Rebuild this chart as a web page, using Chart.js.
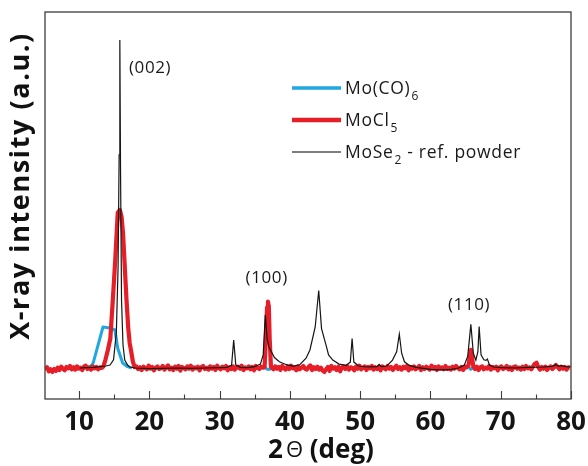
<!DOCTYPE html>
<html>
<head>
<meta charset="utf-8">
<script src="https://cdn.jsdelivr.net/npm/chart.js@4/dist/chart.umd.min.js"></script>
<style>
html,body{margin:0;padding:0;background:#fff;}
#wrap{width:588px;height:466px;position:relative;}
</style>
</head>
<body>
<div id="wrap"><canvas id="c" width="588" height="466"></canvas></div>
<script>
// ---- data ----
const xMajorTicks = [10, 20, 30, 40, 50, 60, 70, 80];
const xMinorTicks = [15, 25, 35, 45, 55, 65, 75];

const seriesLabels = ['Mo(CO)6', 'MoCl5', 'MoSe2 - ref. powder'];
const legendMain = ['Mo(CO)', 'MoCl', 'MoSe'];
const legendSub = ['6', '5', '2'];
const legendTail = ['', '', ' - ref. powder'];

const peakLabels = ['(002)', '(100)', '(110)'];
const peakLabelX = [20.1, 36.7, 65.5];
const peakLabelY = [91.5, 27.4, 19.2];

// Mo(CO)6 : visible parts only
const moco6 = [
  [11.5,0],[12.0,1.5],[12.7,7],[13.4,12.5],[14.4,12.2],[15.1,11.6],[15.5,6],[16.2,1.5],[16.9,0.4],[17.5,0],
  [17.6,null],
  [36.5,0],[36.8,-0.4],[37.1,-0.4],[37.3,0],
  [37.4,null],
  [65.5,0],[65.75,-0.4],[66.0,0]
];

// MoCl5 (noisy baseline, values read by eye)
const mocl5 = [
  [5.2,-0.6],[5.45,0.2],[5.7,-1.0],[5.95,-0.4],[6.2,-1.2],[6.45,-0.3],[6.7,-0.9],[6.95,0.1],[7.2,-0.6],[7.45,0.4],
  [7.7,-0.2],[7.95,-0.7],[8.2,0.3],[8.45,-0.1],[8.7,0.6],[8.95,-0.4],[9.2,0.2],[9.45,-0.5],[9.7,0.5],[9.95,-0.2],
  [10.2,0.1],[10.45,-0.6],[10.7,0.4],[10.95,0.7],[11.2,-0.3],[11.45,0.2],[11.7,-0.5],[11.95,0.5],[12.2,-0.1],[12.45,0.3],
  [12.7,-0.4],[12.95,0.2],[13.2,0.0],
  [13.45,0.4],[13.75,2.5],[14.1,5.5],[14.45,9],[14.8,20.7],[15.15,33],[15.5,47.3],[15.8,48.2],[16.05,46],[16.25,41.2],
  [16.5,31],[16.75,20.7],[17.0,12],[17.2,7.6],[17.45,4.6],[17.65,2],[17.9,0.3],
  [18.15,0.5],[18.4,-0.3],[18.65,0.2],[18.9,-0.6],[19.15,0.4],[19.4,0.0],[19.65,-0.4],[19.9,0.7],[20.15,-0.2],[20.4,0.3],
  [20.65,-0.7],[20.9,0.1],[21.15,0.5],[21.4,-0.3],[21.65,-0.1],[21.9,0.6],[22.15,-0.5],[22.4,0.2],[22.65,0.8],[22.9,-0.4],
  [23.15,0.1],[23.4,-0.6],[23.65,0.4],[23.9,-0.2],[24.15,0.6],[24.4,-0.8],[24.65,0.3],[24.9,0.0],[25.15,-0.4],[25.4,0.5],
  [25.65,-0.2],[25.9,0.7],[26.15,-0.5],[26.4,0.2],[26.65,-0.1],[26.9,0.4],[27.15,-0.7],[27.4,0.3],[27.65,0.6],[27.9,-0.3],
  [28.15,0.1],[28.4,-0.5],[28.65,0.5],[28.9,-0.2],[29.15,0.3],[29.4,-0.6],[29.65,0.7],[29.9,0.0],[30.15,-0.4],[30.4,0.4],
  [30.65,-0.1],[30.9,0.6],[31.15,-0.7],[31.4,0.2],[31.65,-0.3],[31.9,0.5],[32.15,-0.5],[32.4,0.1],[32.65,0.4],[32.9,-0.2],
  [33.15,0.7],[33.4,-0.6],[33.65,0.2],[33.9,-0.1],[34.15,0.5],[34.4,-0.4],[34.65,0.3],[34.9,-0.7],[35.15,0.6],[35.4,0.0],
  [35.65,-0.3],[35.9,0.4],[36.15,0.1],
  [36.4,0.3],[36.6,10],[36.75,18.5],[36.88,20.2],[37.0,18.8],[37.12,9],[37.3,0.4],
  [37.65,-0.4],[37.9,0.5],[38.15,-0.2],[38.4,0.3],[38.65,-0.6],[38.9,0.6],[39.15,0.0],[39.4,-0.5],[39.65,0.4],[39.9,-0.3],
  [40.15,0.7],[40.4,-0.1],[40.65,0.2],[40.9,-0.7],[41.15,0.5],[41.4,-0.4],[41.65,0.1],[41.9,0.6],[42.15,-0.2],[42.4,-0.5],
  [42.65,0.3],[42.9,0.8],[43.15,-0.6],[43.4,0.2],[43.65,-0.3],[43.9,0.4],[44.15,-0.5],[44.4,0.1],[44.65,-0.8],[44.9,-1.2],
  [45.15,-0.4],[45.4,0.3],[45.65,-0.9],[45.9,0.6],[46.15,-0.2],[46.4,0.2],[46.65,-0.6],[46.9,0.4],[47.15,-1.0],[47.4,0.1],
  [47.65,0.5],[47.9,-0.3],[48.15,0.6],[48.4,-0.5],[48.65,0.2],[48.9,0.0],[49.15,-0.7],[49.4,0.4],[49.65,-0.2],[49.9,0.7],
  [50.15,-0.4],[50.4,0.1],[50.65,0.5],[50.9,-0.6],[51.15,0.3],[51.4,-0.1],[51.65,0.6],[51.9,-0.5],[52.15,0.2],[52.4,-0.3],
  [52.65,0.4],[52.9,-0.7],[53.15,0.5],[53.4,0.0],[53.65,-0.4],[53.9,0.6],[54.15,-0.2],[54.4,0.3],[54.65,-0.6],[54.9,0.1],
  [55.15,0.7],[55.4,-0.3],[55.65,0.2],[55.9,-0.5],[56.15,0.4],[56.4,-0.1],[56.65,0.6],[56.9,-0.7],[57.15,0.3],[57.4,-0.2],
  [57.65,0.5],[57.9,-0.4],[58.15,0.1],[58.4,0.6],[58.65,-0.6],[58.9,0.2],[59.15,-0.3],[59.4,0.4],[59.65,0.0],[59.9,-0.5],
  [60.15,0.7],[60.4,-0.2],[60.65,0.3],[60.9,-0.6],[61.15,0.5],[61.4,-0.1],[61.65,0.2],[61.9,-0.4],[62.15,0.6],[62.4,-0.3],
  [62.65,0.1],[62.9,-0.5],[63.15,0.4],[63.4,-0.2],[63.65,0.6],[63.9,0.0],[64.15,-0.4],[64.4,0.3],[64.65,-0.6],[64.9,0.5],
  [65.15,0.2],
  [65.4,0.6],[65.6,3.5],[65.75,5.5],[65.9,3.5],[66.1,0.5],
  [66.35,-0.3],[66.6,0.4],[66.85,-0.6],[67.1,0.2],[67.35,0.5],[67.6,-0.4],[67.85,0.1],[68.1,-0.2],[68.35,0.6],[68.6,-0.5],
  [68.85,0.3],[69.1,-0.1],[69.35,0.4],[69.6,-0.7],[69.85,0.2],[70.1,0.5],[70.35,-0.3],[70.6,0.0],[70.85,0.6],[71.1,-0.4],
  [71.35,0.2],[71.6,-0.6],[71.85,0.3],[72.1,0.5],[72.35,-0.2],[72.6,0.1],[72.85,-0.5],[73.1,0.4],[73.35,-0.3],[73.6,0.6],
  [73.85,-0.1],[74.1,0.2],[74.35,-0.4],[74.6,0.5],[74.85,1.3],[75.1,1.6],[75.35,0.2],[75.6,-0.5],[75.85,0.3],[76.1,-0.2],
  [76.35,0.4],[76.6,-0.6],[76.85,0.1],[77.1,0.5],[77.35,-0.3],[77.6,0.2],[77.85,0.9],[78.1,0.3],[78.35,-0.4],[78.6,0.4],
  [78.85,-0.2],[79.1,0.3],[79.35,-0.5],[79.6,0.2],[79.85,0.1]
];

// MoSe2 reference powder
const mose2 = [
  [10.1,0],[11,0.1],[12,0.2],[13,0.4],[13.8,0.6],[14.4,0.9],[14.9,2.5],[15.3,10.7],[15.55,30.8],[15.7,65],
  [15.8,100],[15.9,60],[16.04,20.7],[16.25,7],[16.5,2.4],[16.9,0.9],[17.2,0.3],[18,0],[20,-0.2],[22,-0.1],
  [24,0],[26,-0.1],[28,0],[30,0.1],[31,0.2],[31.7,0.8],[32.0,8.5],[32.3,0.9],[33,0.2],[34,0.1],
  [35,0.4],[35.8,1.2],[36.2,4],[36.5,16.2],[36.75,9],[37.0,6.5],[37.35,5.0],[37.8,3.2],[38.5,1.9],[39.5,1.0],
  [40.5,0.6],[41.4,1.0],[42.3,3.0],[42.85,5.5],[43.6,12.5],[44.1,23.6],[44.5,12],[45.2,6.5],[45.5,4.0],[46.1,2.4],
  [47,1.2],[48,0.8],[48.6,1.8],[48.85,9],[49.1,1.8],[49.8,0.6],[51,0.3],[52.4,0.4],[52.7,1.1],[53,0.4],
  [53.8,0.6],[54.6,2.4],[55.2,5],[55.57,10.3],[55.9,4.5],[56.3,1.9],[57,0.8],[58,0.2],[59,-0.1],[60,-0.4],
  [61,-0.6],[62,-0.6],[63,-0.4],[64,0],[64.8,0.8],[65.3,3.5],[65.75,13.3],[66.1,4.5],[66.46,2.4],[66.75,5],
  [66.93,12.6],[67.2,4],[67.6,2.5],[67.9,2.3],[68.1,2.7],[68.4,0.9],[69,0.3],[70,0.1],[72,0],[74,0.2],
  [76,0.3],[77.3,0.5],[77.8,1.0],[78.2,0.6],[78.7,0.7],[79.2,0.4],[80,0.3]
];

const colors = ['#1ea7e1', '#e61e28', '#151515'];
const legendLineColors = ['#1ea7e1', '#e61e28', '#555555'];
const widths = [3, 4.2, 1.2];
const legendWidths = [3.5, 4.5, 1.6];

const toPts = a => a.map(p => ({x: p[0], y: p[1]}));

const extras = {
  id: 'extras',
  afterDatasetsDraw(chart) {
    const ctx = chart.ctx, a = chart.chartArea;
    const xs = chart.scales.x, ys = chart.scales.y;
    ctx.save();
    // frame
    ctx.strokeStyle = '#3c3c3c';
    ctx.lineWidth = 1.3;
    ctx.strokeRect(a.left, a.top, a.right - a.left, a.bottom - a.top);
    // inward ticks
    ctx.lineWidth = 1.1;
    ctx.beginPath();
    xMajorTicks.forEach(v => { const px = Math.round(xs.getPixelForValue(v)) + 0.5; ctx.moveTo(px, a.bottom); ctx.lineTo(px, a.bottom - 8); });
    xMinorTicks.forEach(v => { const px = Math.round(xs.getPixelForValue(v)) + 0.5; ctx.moveTo(px, a.bottom); ctx.lineTo(px, a.bottom - 4.5); });
    ctx.stroke();
    // peak labels
    ctx.fillStyle = '#1a1a1a';
    ctx.font = '17px "Open Sans"';
    ctx.letterSpacing = '0.6px';
    ctx.textAlign = 'center';
    ctx.textBaseline = 'middle';
    peakLabels.forEach((t, i) => ctx.fillText(t, xs.getPixelForValue(peakLabelX[i]), ys.getPixelForValue(peakLabelY[i])));
    // legend
    const lx0 = 292, lx1 = 341, ly = [88, 120, 152];
    ctx.textAlign = 'left';
    ctx.textBaseline = 'alphabetic';
    ctx.letterSpacing = '0.7px';
    legendMain.forEach((t, i) => {
      ctx.strokeStyle = legendLineColors[i];
      ctx.lineWidth = legendWidths[i];
      ctx.beginPath(); ctx.moveTo(lx0, ly[i]); ctx.lineTo(lx1, ly[i]); ctx.stroke();
      let x = 345;
      ctx.font = '17.5px "Open Sans"';
      ctx.fillStyle = '#1a1a1a';
      ctx.fillText(t, x, ly[i] + 6);
      x += ctx.measureText(t).width + 1;
      ctx.font = '12px "Open Sans"';
      ctx.fillText(legendSub[i], x, ly[i] + 12);
      x += ctx.measureText(legendSub[i]).width;
      if (legendTail[i]) {
        ctx.font = '17.5px "Open Sans"';
        ctx.fillText(legendTail[i], x, ly[i] + 6);
      }
    });
    // axis titles
    ctx.fillStyle = '#111';
    ctx.textBaseline = 'middle';
    // y
    ctx.save();
    ctx.translate(21, 186);
    ctx.rotate(-Math.PI / 2);
    ctx.textAlign = 'center';
    ctx.letterSpacing = '1.6px';
    ctx.font = 'bold 27px "Open Sans"';
    ctx.fillText('X-ray intensity (a.u.)', 0, 0);
    ctx.restore();
    // x
    ctx.letterSpacing = '0px';
    const parts = [['2', 'bold 26px "Open Sans"'], ['\u0398', '22px "Open Sans"'], [' (deg)', 'bold 26px "Open Sans"']];
    let tot = 0;
    parts.forEach(p => { ctx.font = p[1]; tot += ctx.measureText(p[0]).width; });
    tot += 3;
    let x = 321 - tot / 2;
    ctx.textAlign = 'left';
    parts.forEach((p, i) => { ctx.font = p[1]; ctx.fillText(p[0], x, 451); x += ctx.measureText(p[0]).width + (i === 0 ? 3 : 0); });
    ctx.restore();
  }
};

new Chart(document.getElementById('c'), {
  type: 'line',
  data: {
    datasets: [
      {label: seriesLabels[0], data: toPts(moco6), borderColor: colors[0], borderWidth: widths[0], pointRadius: 0, tension: 0, spanGaps: false, order: 3, borderJoinStyle: 'round'},
      {label: seriesLabels[1], data: toPts(mocl5), borderColor: colors[1], borderWidth: widths[1], pointRadius: 0, tension: 0, order: 2, borderJoinStyle: 'round'},
      {label: seriesLabels[2], data: toPts(mose2), borderColor: colors[2], borderWidth: widths[2], pointRadius: 0, tension: 0, order: 1}
    ]
  },
  options: {
    responsive: false,
    animation: false,
    layout: {padding: {left: 45, right: 17, top: 12, bottom: 0}},
    plugins: {legend: {display: false}, tooltip: {enabled: false}},
    scales: {
      x: {
        type: 'linear', min: 5.15, max: 80,
        grid: {display: false},
        border: {display: false},
        afterBuildTicks: s => { s.ticks = xMajorTicks.map(v => ({value: v})); },
        afterFit: s => { s.height = 67; },
        ticks: {color: '#151515', padding: 0, maxRotation: 0, autoSkip: false,
                font: {family: '"Open Sans"', weight: 'bold', size: 26}}
      },
      y: {
        type: 'linear', min: -9.45, max: 108.5, display: false
      }
    }
  },
  plugins: [extras]
});
</script>
</body>
</html>
